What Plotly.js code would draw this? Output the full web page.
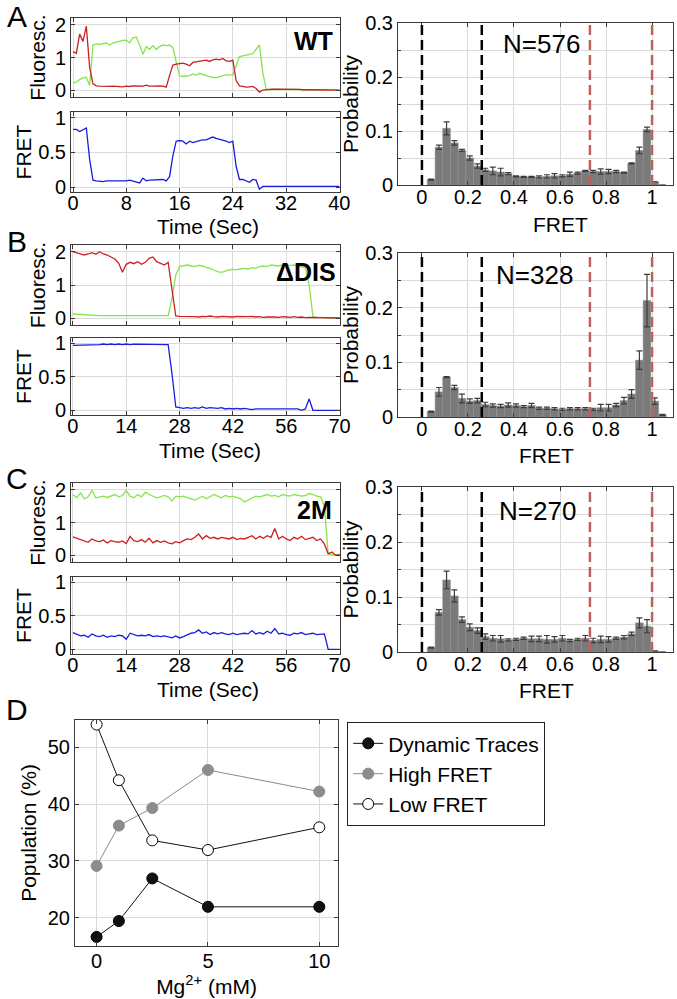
<!DOCTYPE html>
<html><head><meta charset="utf-8">
<script src="https://cdn.plot.ly/plotly-3.0.1.min.js"></script>
<style>html,body{margin:0;padding:0;background:#fff}#chart{width:677px;height:999px}</style>
</head><body><div id="chart"></div>
<script>
// ---------- Panel A traces (time in s) ----------
const timeA = [0,0.5,1,1.5,2,2.5,3,3.5,4,4.5,5,5.5,6,6.5,7,7.5,8,8.5,9,9.5,10,10.5,11,11.5,12,12.5,13,13.5,14,14.5,15,15.5,16,16.5,17,17.5,18,18.5,19,19.5,20,20.5,21,21.5,22,22.5,23,23.5,24,24.5,25,25.5,26,26.5,27,27.5,28,28.5,29,29.5,30,30.5,31,31.5,32,32.5,33,33.5,34,34.5,35,35.5,36,36.5,37,37.5,38,38.5,39,39.5,40];
const redA = [1.18,1.13,1.71,1.49,1.95,0.70,0.20,0.14,0.13,0.12,0.12,0.12,0.13,0.12,0.12,0.11,0.13,0.12,0.14,0.14,0.12,0.13,0.16,0.13,0.13,0.14,0.14,0.13,0.10,0.45,0.77,0.80,0.82,0.83,0.80,0.75,0.85,0.87,0.88,0.90,0.92,0.88,0.93,0.95,0.93,0.97,0.90,0.88,0.92,0.30,0.14,0.12,0.10,0.11,0.12,0.06,-0.05,0.01,0.03,0.03,0.04,0.04,0.05,0.04,0.04,0.04,0.03,0.03,0.03,0.02,0.03,0.02,0.02,0.02,0.02,0.01,0.02,0.01,0.01,0.01,0.01];
const greenA = [0.23,0.25,0.33,0.38,0.40,0.15,1.38,1.41,1.40,1.41,1.44,1.38,1.44,1.47,1.50,1.52,1.53,1.45,1.60,1.62,1.38,1.10,1.33,1.25,1.36,1.25,1.33,1.38,1.36,1.38,1.30,0.85,0.44,0.43,0.43,0.45,0.50,0.46,0.52,0.48,0.46,0.42,0.40,0.38,0.42,0.45,0.47,0.47,0.47,0.75,1.03,1.05,1.07,1.10,1.12,1.25,1.38,0.55,0.05,0.02,0.03,0.03,0.04,0.03,0.04,0.03,0.03,0.02,0.03,0.02,0.02,0.02,0.02,0.02,0.01,0.02,0.01,0.01,0.01,0.01,0.01];
const fretA = [0.83,0.83,0.80,0.83,0.85,0.40,0.10,0.09,0.08,0.08,0.09,0.09,0.09,0.08,0.08,0.08,0.09,0.10,0.09,0.07,0.06,0.13,0.09,0.10,0.10,0.11,0.11,0.11,0.09,0.15,0.45,0.66,0.67,0.66,0.62,0.66,0.64,0.66,0.67,0.68,0.68,0.70,0.72,0.70,0.69,0.67,0.66,0.64,0.66,0.30,0.11,0.11,0.09,0.07,0.11,0.10,-0.03,0.01,0.01,0.01,0.01,0.01,0.01,0.01,0.01,0.01,0.01,0.01,0.01,0.01,0.01,0.01,0.01,0.01,0.01,0.01,0.01,0.01,0.01,0.01,0.01];

// ---------- Panel B traces ----------
const timeBC = [0,1,2,3,4,5,6,7,8,9,10,11,12,13,14,15,16,17,18,19,20,21,22,23,24,25,26,27,28,29,30,31,32,33,34,35,36,37,38,39,40,41,42,43,44,45,46,47,48,49,50,51,52,53,54,55,56,57,58,59,60,61,62,63,64,65,66,67,68,69,70];
const redB = [2.00,1.96,1.93,1.90,1.93,1.97,1.92,2.00,1.93,1.90,1.84,1.78,1.66,1.38,1.62,1.68,1.64,1.70,1.62,1.68,1.80,1.84,1.70,1.64,1.60,1.68,0.80,0.07,0.06,0.06,0.05,0.07,0.05,0.04,0.06,0.05,0.07,0.05,0.04,0.06,0.05,0.05,0.04,0.06,0.05,0.04,0.05,0.06,0.04,0.05,0.03,0.04,0.05,0.04,0.03,0.05,0.04,0.03,0.05,0.03,0.04,0.02,0.03,0.03,0.02,0.03,0.02,0.02,0.01,0.02,0.01];
const greenB = [0.13,0.12,0.11,0.10,0.10,0.09,0.09,0.08,0.08,0.08,0.07,0.07,0.06,0.07,0.06,0.07,0.07,0.08,0.07,0.07,0.08,0.08,0.07,0.08,0.08,0.08,0.60,1.30,1.55,1.58,1.60,1.57,1.55,1.59,1.57,1.52,1.50,1.45,1.40,1.38,1.42,1.45,1.47,1.46,1.48,1.50,1.48,1.52,1.50,1.55,1.57,1.55,1.60,1.58,1.57,1.60,1.62,1.58,1.60,1.57,1.55,1.52,1.00,0.05,0.03,0.03,0.02,0.02,0.02,0.01,0.01];
const fretB = [0.97,0.97,0.98,0.98,0.98,0.97,0.98,0.98,0.99,0.98,0.99,0.98,0.99,0.98,0.99,0.98,0.99,0.99,0.98,0.99,0.98,0.98,0.99,0.98,0.98,0.98,0.55,0.05,0.04,0.03,0.04,0.03,0.04,0.03,0.05,0.03,0.04,0.03,0.03,0.04,0.02,0.03,0.02,0.03,0.02,0.03,0.02,0.01,0.02,0.02,0.01,0.02,0.01,0.02,0.01,0.02,0.01,0.02,0.01,0.02,0.00,0.02,0.17,0.00,0.00,0.00,0.00,0.00,0.00,0.00,0.00];

// ---------- Panel C traces ----------
const greenC = [1.85,1.75,1.90,1.72,1.78,1.98,1.75,1.78,1.80,1.76,1.80,1.85,1.78,1.82,1.97,1.80,1.75,1.85,1.78,1.92,1.85,1.80,1.75,1.78,1.82,1.78,1.65,1.80,1.78,1.80,1.75,1.72,1.68,1.75,1.80,1.72,1.78,1.85,1.80,1.75,1.82,1.78,1.80,1.76,1.72,1.62,1.68,1.75,1.80,1.78,1.82,1.85,1.80,1.82,1.78,1.85,1.82,1.80,1.85,1.82,1.80,1.82,1.88,1.85,1.80,1.78,1.50,0.05,0.02,0.02,0.03];
const redC = [0.56,0.52,0.48,0.45,0.40,0.50,0.44,0.42,0.47,0.38,0.45,0.42,0.40,0.44,0.36,0.58,0.45,0.42,0.48,0.40,0.52,0.38,0.45,0.40,0.44,0.38,0.35,0.42,0.38,0.45,0.50,0.48,0.55,0.65,0.50,0.60,0.52,0.55,0.50,0.55,0.52,0.50,0.55,0.48,0.52,0.50,0.55,0.60,0.50,0.58,0.52,0.60,0.55,0.82,0.50,0.58,0.50,0.45,0.55,0.50,0.58,0.48,0.52,0.55,0.45,0.50,0.35,0.05,0.10,0.00,0.02];
const fretC = [0.25,0.22,0.20,0.21,0.18,0.23,0.20,0.19,0.21,0.18,0.20,0.19,0.21,0.20,0.15,0.24,0.22,0.20,0.21,0.20,0.22,0.19,0.20,0.19,0.20,0.18,0.17,0.20,0.17,0.19,0.22,0.24,0.25,0.29,0.24,0.26,0.22,0.25,0.23,0.25,0.23,0.22,0.24,0.22,0.23,0.24,0.23,0.28,0.23,0.25,0.23,0.27,0.24,0.31,0.23,0.24,0.22,0.21,0.24,0.23,0.25,0.22,0.23,0.24,0.22,0.23,0.23,0.00,0.00,0.00,0.00];

// ---------- FRET histograms ----------
const binCenters = [0.040,0.074,0.107,0.141,0.174,0.208,0.241,0.275,0.308,0.342,0.375,0.409,0.442,0.476,0.509,0.543,0.576,0.610,0.643,0.677,0.710,0.744,0.777,0.811,0.844,0.878,0.911,0.945,0.978,1.012,1.045];
const histA = [0.010,0.070,0.105,0.078,0.064,0.050,0.035,0.028,0.026,0.024,0.021,0.016,0.015,0.015,0.015,0.016,0.017,0.017,0.020,0.022,0.026,0.025,0.025,0.025,0.025,0.023,0.040,0.064,0.103,0.006,0.000];
const errA  = [0.001,0.004,0.012,0.004,0.002,0.004,0.004,0.003,0.007,0.007,0.002,0.001,0.001,0.001,0.002,0.003,0.004,0.002,0.004,0.002,0.001,0.002,0.005,0.004,0.002,0.001,0.001,0.006,0.004,0.000,0.000];
const histB = [0.010,0.046,0.073,0.054,0.034,0.029,0.030,0.023,0.021,0.020,0.022,0.021,0.019,0.021,0.016,0.016,0.015,0.014,0.015,0.015,0.015,0.014,0.017,0.017,0.022,0.030,0.042,0.104,0.213,0.029,0.004];
const errB  = [0.001,0.008,0.001,0.004,0.008,0.004,0.004,0.004,0.003,0.003,0.004,0.003,0.002,0.004,0.002,0.002,0.002,0.002,0.002,0.002,0.002,0.002,0.006,0.006,0.003,0.006,0.008,0.017,0.048,0.006,0.001];
const histC = [0.008,0.072,0.131,0.102,0.059,0.045,0.039,0.028,0.025,0.024,0.022,0.023,0.025,0.024,0.024,0.023,0.023,0.025,0.021,0.023,0.025,0.021,0.023,0.023,0.025,0.027,0.033,0.053,0.047,0.002,0.000];
const errC  = [0.001,0.005,0.016,0.011,0.005,0.006,0.005,0.005,0.005,0.006,0.002,0.002,0.002,0.005,0.005,0.007,0.005,0.005,0.002,0.002,0.005,0.004,0.006,0.005,0.002,0.003,0.003,0.009,0.012,0.000,0.000];
const countLabels = ['N=576','N=328','N=270'];
const lowThresholds = [0, 0.26];
const highThresholds = [0.73, 1.0];

// ---------- Panel D ----------
const mgConc = [0, 1, 2.5, 5, 10];
const dynamicTraces = [16.6, 19.4, 26.9, 21.9, 21.9];
const highFret = [29.1, 36.2, 39.3, 46.0, 42.2];
const lowFret = [54.0, 44.2, 33.6, 31.9, 35.9];
const seriesNames = ['Dynamic Traces','High FRET','Low FRET'];
const constructLabels = ['WT','ΔDIS','2M'];
const panelLetters = ['A','B','C','D'];

// ---------- layout helpers ----------
const W = 677, H = 999;
const FONT = 'Liberation Sans, Arial, sans-serif';
const hdom = (l, r) => [l / W, r / W];
const vdom = (top, bot) => [1 - bot / H, 1 - top / H];
const gridCol = '#dadada', lineCol = '#3a3a3a';
const RED = '#cc2020', GREEN = '#88e44c', BLUE = '#1c1ce0';

function ax(extra) {
  return Object.assign({
    showline: true, mirror: 'ticks', linecolor: lineCol, linewidth: 1,
    ticks: 'inside', ticklen: 4, tickcolor: lineCol,
    showgrid: true, gridcolor: gridCol, gridwidth: 1, zeroline: false,
    tickfont: {family: FONT, size: 20, color: '#000'}, fixedrange: true
  }, extra);
}
const ttl = (t, s, sz) => ({text: t, font: {family: FONT, size: sz || 21, color: '#000'}, standoff: s});
const textAt = (t, px, py, size, extra) => Object.assign({xref: 'paper', yref: 'paper', x: px / W, y: 1 - py / H,
  xanchor: 'center', yanchor: 'middle', text: t, showarrow: false, font: {family: FONT, size: size, color: '#000'}}, extra || {});

const traceX = hdom(71, 340), histX = hdom(398, 673), dX = hdom(75, 338);
const rows = [
  {fl: vdom(18, 97),  fr: vdom(112, 192), hi: vdom(23, 185),  t: timeA, red: redA, green: greenA, fret: fretA, h: histA, e: errA, xr: [-0.3, 40.1], dt: 8},
  {fl: vdom(245, 325), fr: vdom(338, 415), hi: vdom(253, 417), t: timeBC, red: redB, green: greenB, fret: fretB, h: histB, e: errB, xr: [-0.5, 70.1], dt: 14},
  {fl: vdom(483, 562), fr: vdom(577, 654), hi: vdom(487, 652), t: timeBC, red: redC, green: greenC, fret: fretC, h: histC, e: errC, xr: [-0.5, 70.1], dt: 14}
];
const nPos = [[0.52, 0.261], [0.49, 0.259], [0.50, 0.256]];
const labelPos = [[335, 41], [338, 272], [334, 510]];
const timeTitlePos = [[208, 226], [210, 450], [208, 689]];
const fretTitlePos = [[560, 224], [546, 455], [546, 690]];
const letterPos = [[17, 17], [17, 241], [17, 479], [17, 709]];

const data = [], layout = {
  width: W, height: H, margin: {l: 0, r: 0, t: 0, b: 0},
  paper_bgcolor: '#fff', plot_bgcolor: '#fff', showlegend: true,
  font: {family: FONT, color: '#000'},
  annotations: [], shapes: [],
  legend: {x: 347 / W, y: 1 - 722 / H, xanchor: 'left', yanchor: 'top', bordercolor: '#222', borderwidth: 1.2,
           bgcolor: '#fff', font: {family: FONT, size: 21, color: '#000'}, tracegroupgap: 0, itemwidth: 30}
};

rows.forEach((r, i) => {
  const a = 3 * i + 1, b = 3 * i + 2, c = 3 * i + 3;
  const sx = n => (n === 1 ? '' : n);
  // fluorescence
  layout['xaxis' + sx(a)] = ax({domain: traceX, anchor: 'y' + sx(a), range: r.xr, dtick: r.dt, tick0: 0, showticklabels: false});
  layout['yaxis' + sx(a)] = ax({domain: r.fl, anchor: 'x' + sx(a), range: [-0.2, 2.2], tickvals: [0, 1, 2], title: ttl('Fluoresc.', 3, 21)});
  data.push({x: r.t, y: r.green, xaxis: 'x' + sx(a), yaxis: 'y' + sx(a), type: 'scatter', mode: 'lines', line: {color: GREEN, width: 1.3}, showlegend: false, name: 'Donor'});
  data.push({x: r.t, y: r.red, xaxis: 'x' + sx(a), yaxis: 'y' + sx(a), type: 'scatter', mode: 'lines', line: {color: RED, width: 1.3}, showlegend: false, name: 'Acceptor'});
  // FRET trace
  layout['xaxis' + b] = ax({domain: traceX, anchor: 'y' + b, range: r.xr, dtick: r.dt, tick0: 0, ticklabelstandoff: -7});
  layout['yaxis' + b] = ax({domain: r.fr, anchor: 'x' + b, range: [-0.07, 1.08], tickvals: [0, 0.5, 1], ticktext: ['0', '0.5', '1'], title: ttl('FRET', 0, 21)});
  data.push({x: r.t, y: r.fret, xaxis: 'x' + b, yaxis: 'y' + b, type: 'scatter', mode: 'lines', line: {color: BLUE, width: 1.3}, showlegend: false, name: 'FRET'});
  layout.annotations.push(textAt('Time (Sec)', timeTitlePos[i][0], timeTitlePos[i][1], 21));
  // histogram
  layout['xaxis' + c] = ax({domain: histX, anchor: 'y' + c, range: [-0.104, 1.091], tickvals: [0, 0.2, 0.4, 0.6, 0.8, 1], ticktext: ['0', '0.2', '0.4', '0.6', '0.8', '1'], ticklabelstandoff: -6});
  layout['yaxis' + c] = ax({domain: r.hi, anchor: 'x' + c, range: [0, 0.3], tickvals: [0, 0.1, 0.2, 0.3], ticktext: ['0', '0.1', '0.2', '0.3'],
    minor: {tickvals: [0.05, 0.15, 0.25], showgrid: true, gridcolor: gridCol, ticks: 'inside', ticklen: 3, tickcolor: lineCol}, title: ttl('Probability', 0, 21)});
  data.push({x: binCenters, y: r.h, xaxis: 'x' + c, yaxis: 'y' + c, type: 'bar', width: 0.0335,
    marker: {color: '#7a7a7a', line: {color: '#8f8f8f', width: 0.5}},
    error_y: {type: 'data', array: r.e, visible: true, color: '#3c3c3c', thickness: 1.2, width: 3},
    showlegend: false, name: 'Probability'});
  layout.annotations.push(textAt('FRET', fretTitlePos[i][0], fretTitlePos[i][1], 21));
  lowThresholds.forEach(v => layout.shapes.push({type: 'line', xref: 'x' + c, yref: 'y' + c + ' domain', x0: v, x1: v, y0: 0, y1: 1, line: {color: '#000', width: 2.5, dash: '10px,5px'}}));
  highThresholds.forEach(v => layout.shapes.push({type: 'line', xref: 'x' + c, yref: 'y' + c + ' domain', x0: v, x1: v, y0: 0, y1: 1, line: {color: '#c0605a', width: 2.5, dash: '10px,5px'}}));
  layout.annotations.push({xref: 'x' + c, yref: 'y' + c, x: nPos[i][0], y: nPos[i][1], text: countLabels[i], showarrow: false, font: {family: FONT, size: 26, color: '#000'}});
  layout.annotations.push(textAt('<b>' + constructLabels[i] + '</b>', labelPos[i][0], labelPos[i][1], 25, {xanchor: 'right'}));
});

// Panel D
layout.xaxis10 = ax({domain: dX, anchor: 'y10', range: [-0.97, 10.84], tickvals: [0, 5, 10], ticklabelstandoff: -3, title: ttl('Mg<sup>2+</sup> (mM)', 0, 21)});
layout.yaxis10 = ax({domain: vdom(720, 946), anchor: 'x10', range: [15, 54.8], tickvals: [20, 30, 40, 50], title: ttl('Population (%)', 5, 21)});
data.push({x: mgConc, y: dynamicTraces, xaxis: 'x10', yaxis: 'y10', type: 'scatter', mode: 'lines+markers', name: seriesNames[0],
  line: {color: '#111', width: 1}, marker: {size: 11, color: '#111', line: {color: '#000', width: 1}}});
data.push({x: mgConc, y: highFret, xaxis: 'x10', yaxis: 'y10', type: 'scatter', mode: 'lines+markers', name: seriesNames[1],
  line: {color: '#8a8a8a', width: 1}, marker: {size: 11, color: '#8c8c8c', line: {color: '#8c8c8c', width: 1}}});
data.push({x: mgConc, y: lowFret, xaxis: 'x10', yaxis: 'y10', type: 'scatter', mode: 'lines+markers', name: seriesNames[2],
  line: {color: '#111', width: 1}, marker: {size: 11, color: '#fff', line: {color: '#000', width: 1}}});

panelLetters.forEach((L, i) => layout.annotations.push(textAt(L, letterPos[i][0], letterPos[i][1], 30)));

Plotly.newPlot('chart', data, layout, {staticPlot: true, displayModeBar: false});
</script></body></html>
